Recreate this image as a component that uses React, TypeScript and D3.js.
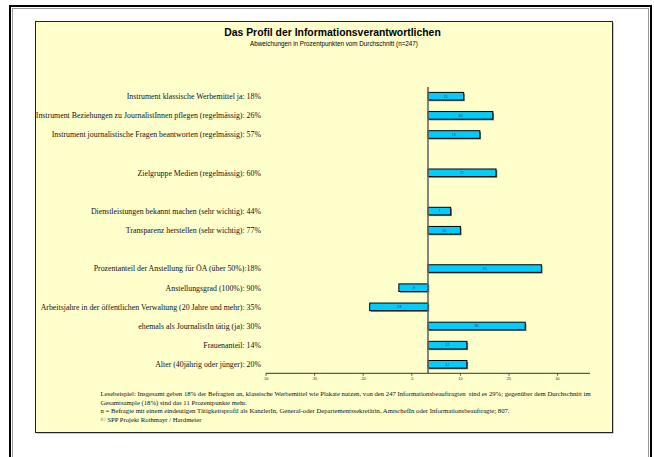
import React from "react";
import * as d3 from "d3";

const categories: string[] = [
  "Instrument klassische Werbemittel ja: 18%",
  "Instrument Beziehungen zu JournalistInnen pflegen (regelmässig): 26%",
  "Instrument journalistische Fragen beantworten (regelmässig): 57%",
  "",
  "Zielgruppe Medien (regelmässig): 60%",
  "",
  "Dienstleistungen bekannt machen (sehr wichtig): 44%",
  "Transparenz herstellen (sehr wichtig): 77%",
  "",
  "Prozentanteil der Anstellung für ÖA (über 50%):18%",
  "Anstellungsgrad (100%): 90%",
  "Arbeitsjahre in der öffentlichen Verwaltung (20 Jahre und mehr): 35%",
  "ehemals als JournalistIn tätig (ja): 30%",
  "Frauenanteil: 14%",
  "Alter (40jährig oder jünger): 20%",
];

const deviations: (number | null)[] = [11, 20, 16, null, 21, null, 7, 10, null, 35, -9, -18, 30, 12, 12];

const xTicks = [-50, -35, -20, -5, 10, 25, 40];
const xDomain: [number, number] = [-50, 50];

const title = "Das Profil der Informationsverantwortlichen";
const subtitle = "Abweichungen in Prozentpunkten vom Durchschnitt (n=247)";
const notes = [
  "Lesebeispiel: Insgesamt geben 18% der Befragten an, klassische Werbemittel wie Plakate nutzen, von den 247 Informationsbeauftragten  sind es 29%; gegenüber dem Durchschnitt im",
  "Gesamtsample (18%) sind das 11 Prozentpunkte mehr.",
  "n = Befragte mit einem eindeutigen Tätigkeitsprofil als KanzlerIn, General-oder Departementssekretärin, AmtschefIn oder Informationsbeauftragte; 807.",
  "© SPP Projekt Rothmayr / Hardmeier",
];

export default function App() {
  const W = 654;
  const H = 457;
  const x = d3.scaleLinear().domain(xDomain).range([266, 590]);
  const y = d3
    .scalePoint<number>()
    .domain(categories.map((_, i) => i))
    .range([96.2, 364.3]);
  const barH = 7.6;
  const serif = "'Liberation Serif', 'Times New Roman', serif";
  const sans = "'Liberation Sans', Arial, sans-serif";
  const noteY = [396, 404.5, 413, 421.5];

  return (
    <svg
      width={W}
      height={H}
      style={{ position: "absolute", left: 0, top: 0, background: "#fff" }}
    >
      {/* outer frame */}
      <rect x={10} y={6} width={641} height={470} fill="#fff" stroke="#000" strokeWidth={2} />
      <rect x={12.5} y={8.5} width={636} height={465} fill="none" stroke="#999" strokeWidth={1} />
      {/* inner panel */}
      <rect x={36.5} y={22.5} width={577} height={411} fill="#9a9a80" />
      <rect x={35.5} y={21.5} width={577} height={411} fill="#FFFFCC" stroke="#222" strokeWidth={1} />

      <text x={332.5} y={36} textAnchor="middle" fontFamily={sans} fontWeight="bold" fontSize={10.4} fill="#000">
        {title}
      </text>
      <text x={334} y={45.5} textAnchor="middle" fontFamily={sans} fontSize={6.3} fill="#000">
        {subtitle}
      </text>

      {/* category labels */}
      {categories.map((c, i) =>
        c ? (
          <text
            key={"l" + i}
            x={261}
            y={(y(i) as number) + 2.8}
            textAnchor="end"
            fontFamily={serif}
            fontSize={7.85}
            fill="#111"
          >
            {c}
          </text>
        ) : null
      )}

      {/* bars */}
      {deviations.map((v, i) => {
        if (v === null) return null;
        const x0 = x(Math.min(0, v));
        const x1 = x(Math.max(0, v));
        const cy = y(i) as number;
        return (
          <g key={"b" + i}>
            <rect x={x0 + 1.2} y={cy - barH / 2 + 1.2} width={x1 - x0} height={barH} fill="#7a7a60" />
            <rect
              x={x0}
              y={cy - barH / 2}
              width={x1 - x0}
              height={barH}
              fill="#00CCFF"
              stroke="#000"
              strokeWidth={1}
            />
            <text
              x={(x0 + x1) / 2}
              y={cy + 1.3}
              textAnchor="middle"
              fontFamily={sans}
              fontSize={3.8}
              fill="#234"
            >
              {v}
            </text>
          </g>
        );
      })}

      {/* zero line */}
      <line x1={x(0)} x2={x(0)} y1={87} y2={373} stroke="#666" strokeWidth={1.6} />

      {/* x axis */}
      <line x1={x(xDomain[0])} x2={x(xDomain[1])} y1={373.3} y2={373.3} stroke="#333" strokeWidth={1} />
      {xTicks.map((t) => (
        <g key={"t" + t}>
          <line x1={x(t)} x2={x(t)} y1={373.3} y2={375.8} stroke="#333" strokeWidth={0.8} />
          <text x={x(t)} y={379.6} textAnchor="middle" fontFamily={sans} fontSize={3.6} fill="#222">
            {t}
          </text>
        </g>
      ))}

      {/* notes */}
      {notes.map((n, i) => (
        <text key={"n" + i} x={100.5} y={noteY[i]} fontFamily={serif} fontSize={6.7} fill="#111" style={{ whiteSpace: "pre" }}>
          {n}
        </text>
      ))}
    </svg>
  );
}
